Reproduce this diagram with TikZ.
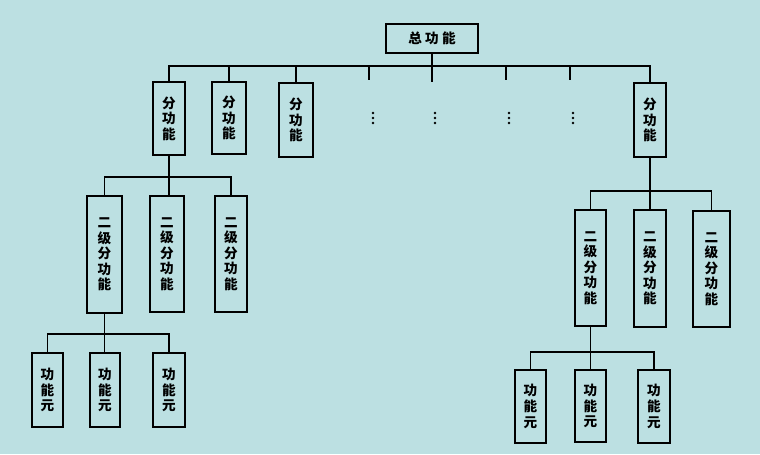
\documentclass[tikz,border=0pt]{standalone}
\usepackage{fontspec}
\newfontfamily\cjk{Noto Sans CJK SC}
\definecolor{bg}{RGB}{188,224,226}
\begin{document}
\begin{tikzpicture}[x=0.75pt,y=-0.75pt,
  fbox/.style={draw=black, line width=1.9pt, inner sep=0pt, align=center,
    font=\cjk\bfseries\fontsize{10.2}{11.7}\selectfont},
  conn/.style={draw=black, line width=1.3pt},
  vdot/.style={fill=black, inner sep=0pt, minimum size=2pt, circle}]
\fill[bg] (0,0) rectangle (760,454);
\useasboundingbox (0,0) rectangle (760,454);
% top
\node[fbox, minimum width=69pt, minimum height=21.75pt] (top) at (432,38.5) {总\hspace{2.5pt}功\hspace{2.5pt}能};
% level 1
\node[fbox, minimum width=24pt, minimum height=54.75pt] (l1a) at (169,118.5) {分\\功\\能};
\node[fbox, minimum width=25.5pt, minimum height=54pt] (l1b) at (229,118) {分\\功\\能};
\node[fbox, minimum width=25.5pt, minimum height=55.5pt] (l1c) at (296,120) {分\\功\\能};
\node[fbox, minimum width=24pt, minimum height=55.5pt] (l1d) at (650,120) {分\\功\\能};
\coordinate (bus1) at (0,66);
\draw[conn] (top.south) -- (432,82) coordinate (t2);
\draw[conn] (l1a.north) -- (l1a.north |- bus1) -- (l1d.north |- bus1) -- (l1d.north);
\draw[conn] (l1b.north |- bus1) -- (l1b.north);
\draw[conn] (l1c.north |- bus1) -- (l1c.north);
\coordinate (t1) at (369,80);
\coordinate (t3) at (506,80);
\coordinate (t4) at (570,80);
\draw[conn] (t1 |- bus1) -- (t1);
\draw[conn] (t3 |- bus1) -- (t3);
\draw[conn] (t4 |- bus1) -- (t4);
\foreach \x [count=\i] in {373,435,509,573}{
  \foreach \y [count=\j] in {113,118,123}{
    \node[vdot] (d\i\j) at (\x,\y) {};
  }
}
% level 2 left
\node[fbox, minimum width=26.25pt, minimum height=87.75pt] (l2A) at (104.5,254.5) {二\\级\\分\\功\\能};
\node[fbox, minimum width=25.5pt, minimum height=87pt] (l2B) at (167,254) {二\\级\\分\\功\\能};
\node[fbox, minimum width=24pt, minimum height=87pt] (l2C) at (231,254) {二\\级\\分\\功\\能};
\coordinate (bus2) at (0,177);
\draw[conn] (l1a.south) -- (l1a.south |- l2B.north);
\draw[conn] (l2A.north) -- (l2A.north |- bus2) -- (l2C.north |- bus2) -- (l2C.north);
% level 3 left
\node[fbox, minimum width=23.25pt, minimum height=55.5pt] (l3a) at (47.5,390) {功\\能\\元};
\node[fbox, minimum width=22.5pt, minimum height=55.5pt] (l3b) at (105,390) {功\\能\\元};
\node[fbox, minimum width=24pt, minimum height=55.5pt] (l3c) at (169,390) {功\\能\\元};
\coordinate (bus3) at (0,334);
\draw[conn] (l2A.south) -- (l2A.south |- l3b.north);
\draw[conn] (l3a.north) -- (l3a.north |- bus3) -- (l3c.north |- bus3) -- (l3c.north);
% level 2 right
\node[fbox, minimum width=23.25pt, minimum height=87pt] (l2D) at (590.5,268) {二\\级\\分\\功\\能};
\node[fbox, minimum width=24pt, minimum height=87.75pt] (l2E) at (650,268.5) {二\\级\\分\\功\\能};
\node[fbox, minimum width=27.75pt, minimum height=87pt] (l2F) at (711.5,269) {二\\级\\分\\功\\能};
\coordinate (bus4) at (0,191);
\draw[conn] (l1d.south) -- (l1d.south |- l2E.north);
\draw[conn] (l2D.north) -- (l2D.north |- bus4) -- (l2F.north |- bus4) -- (l2F.north);
% level 3 right
\node[fbox, minimum width=23.25pt, minimum height=54.75pt] (l3d) at (530.5,406.5) {功\\能\\元};
\node[fbox, minimum width=23.25pt, minimum height=54pt] (l3e) at (590.5,406) {功\\能\\元};
\node[fbox, minimum width=24pt, minimum height=54.75pt] (l3f) at (654,406.5) {功\\能\\元};
\coordinate (bus5) at (0,352);
\draw[conn] (l2D.south) -- (l2D.south |- l3e.north);
\draw[conn] (l3d.north) -- (l3d.north |- bus5) -- (l3f.north |- bus5) -- (l3f.north);
\end{tikzpicture}
\end{document}
